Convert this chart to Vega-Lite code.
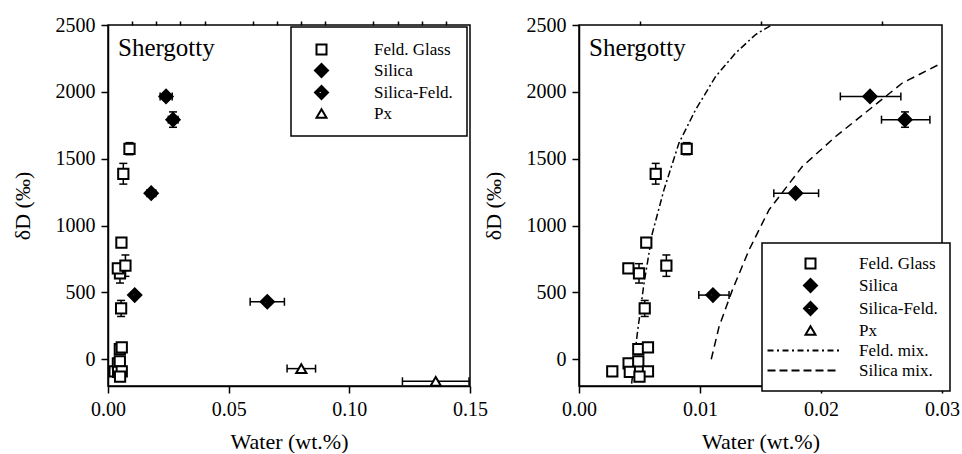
{
  "$schema": "https://vega.github.io/schema/vega-lite/v6.json",
  "padding": {"left": 10, "top": 14, "right": 0, "bottom": 0},
  "background": "white",
  "datasets": {
    "pts": [
      {"type": "Feld. Glass", "x": 0.00275, "y": -90},
      {"type": "Feld. Glass", "x": 0.0041, "y": -30},
      {"type": "Feld. Glass", "x": 0.0049, "y": -15},
      {"type": "Feld. Glass", "x": 0.0042, "y": -95},
      {"type": "Feld. Glass", "x": 0.0057, "y": -90},
      {"type": "Feld. Glass", "x": 0.0050, "y": -130},
      {"type": "Feld. Glass", "x": 0.0049, "y": 75},
      {"type": "Feld. Glass", "x": 0.0057, "y": 88},
      {"type": "Feld. Glass", "x": 0.00543, "y": 380},
      {"type": "Feld. Glass", "x": 0.00496, "y": 642},
      {"type": "Feld. Glass", "x": 0.00408, "y": 680},
      {"type": "Feld. Glass", "x": 0.00722, "y": 700},
      {"type": "Feld. Glass", "x": 0.00556, "y": 872},
      {"type": "Feld. Glass", "x": 0.00634, "y": 1387},
      {"type": "Feld. Glass", "x": 0.0089, "y": 1574},
      {"type": "Silica", "x": 0.02405, "y": 1966},
      {"type": "Silica", "x": 0.02694, "y": 1792},
      {"type": "Silica", "x": 0.0179, "y": 1242},
      {"type": "Silica-Feld.", "x": 0.01107, "y": 480},
      {"type": "Silica-Feld.", "x": 0.066, "y": 430},
      {"type": "Px", "x": 0.0801, "y": -70},
      {"type": "Px", "x": 0.1358, "y": -165}
    ],
    "xerr": [
      {"y": 1574, "xlo": 0.0086, "xhi": 0.0092},
      {"y": 1966, "xlo": 0.0216, "xhi": 0.0266},
      {"y": 1792, "xlo": 0.0250, "xhi": 0.0290},
      {"y": 1242, "xlo": 0.0161, "xhi": 0.0198},
      {"y": 480, "xlo": 0.0099, "xhi": 0.0124},
      {"y": 430, "xlo": 0.0589, "xhi": 0.0731},
      {"y": -70, "xlo": 0.0742, "xhi": 0.0860},
      {"y": -165, "xlo": 0.1220, "xhi": 0.1496}
    ],
    "yerr": [
      {"x": 0.0089, "ylo": 1530, "yhi": 1620},
      {"x": 0.00634, "ylo": 1310, "yhi": 1465},
      {"x": 0.00722, "ylo": 620, "yhi": 780},
      {"x": 0.00496, "ylo": 570, "yhi": 715},
      {"x": 0.00543, "ylo": 320, "yhi": 440},
      {"x": 0.02694, "ylo": 1735, "yhi": 1850}
    ],
    "curves": [
      {"curve": "Feld. mix.", "i": 1, "x": 0.00435, "y": -182},
      {"curve": "Feld. mix.", "i": 2, "x": 0.00482, "y": 193},
      {"curve": "Feld. mix.", "i": 3, "x": 0.00537, "y": 567},
      {"curve": "Feld. mix.", "i": 4, "x": 0.00606, "y": 942},
      {"curve": "Feld. mix.", "i": 5, "x": 0.00702, "y": 1267},
      {"curve": "Feld. mix.", "i": 6, "x": 0.00826, "y": 1617},
      {"curve": "Feld. mix.", "i": 7, "x": 0.00964, "y": 1867},
      {"curve": "Feld. mix.", "i": 8, "x": 0.0113, "y": 2116},
      {"curve": "Feld. mix.", "i": 9, "x": 0.01295, "y": 2291},
      {"curve": "Feld. mix.", "i": 10, "x": 0.0146, "y": 2429},
      {"curve": "Feld. mix.", "i": 11, "x": 0.0160, "y": 2504},
      {"curve": "Silica mix.", "i": 1, "x": 0.01093, "y": 0},
      {"curve": "Silica mix.", "i": 2, "x": 0.01157, "y": 242},
      {"curve": "Silica mix.", "i": 3, "x": 0.01267, "y": 517},
      {"curve": "Silica mix.", "i": 4, "x": 0.01405, "y": 817},
      {"curve": "Silica mix.", "i": 5, "x": 0.0157, "y": 1117},
      {"curve": "Silica mix.", "i": 6, "x": 0.01845, "y": 1441},
      {"curve": "Silica mix.", "i": 7, "x": 0.02121, "y": 1666},
      {"curve": "Silica mix.", "i": 8, "x": 0.02397, "y": 1866},
      {"curve": "Silica mix.", "i": 9, "x": 0.02672, "y": 2066},
      {"curve": "Silica mix.", "i": 10, "x": 0.0300, "y": 2216}
    ]
  },
  "spacing": 109,
  "bounds": "flush",
  "resolve": {
    "scale": {"x": "independent", "y": "independent", "shape": "independent", "fill": "independent", "stroke": "independent"},
    "legend": {"shape": "independent", "fill": "independent", "stroke": "independent"}
  },
  "hconcat": [
    {
      "width": 362,
      "height": 361,
      "title": {"text": "Shergotty", "anchor": "start", "frame": "group", "baseline": "top", "offset": -46, "dx": 10, "fontSize": 25, "font": "Liberation Serif", "fontWeight": "normal", "color": "black"},
      "resolve": {"axis": {"x": "independent"}},
      "layer": [
        {
          "data": {"name": "xerr"},
          "mark": {"type": "rule", "color": "black", "strokeWidth": 1.5, "clip": true},
          "encoding": {
            "x": {"field": "xlo", "type": "quantitative", "title": "Water (wt.%)", "scale": {"domain": [0, 0.15], "nice": false, "zero": false},
              "axis": {"values": [0, 0.05, 0.1, 0.15], "format": ".2f", "labelOverlap": false, "labelFlush": false, "tickSize": 7}},
            "x2": {"field": "xhi"},
            "y": {"field": "y", "type": "quantitative", "title": "δD (‰)", "scale": {"domain": [-200, 2500], "nice": false, "zero": false}, "axis": {"values": [0, 500, 1000, 1500, 2000, 2500], "format": "d", "labelOverlap": false}}
          }
        },
        {
          "data": {"name": "xerr"},
          "mark": {"type": "tick", "orient": "vertical", "size": 8, "thickness": 1.5, "color": "black", "opacity": 1, "clip": true},
          "encoding": {
            "x": {"field": "xlo", "type": "quantitative", "title": null, "scale": {"domain": [0, 0.15], "nice": false, "zero": false},
              "axis": {"values": [0.01, 0.02, 0.03, 0.04, 0.06, 0.07, 0.08, 0.09, 0.11, 0.12, 0.13, 0.14], "labels": false, "domain": false, "tickSize": 4, "title": null}},
            "y": {"field": "y", "type": "quantitative", "title": "δD (‰)", "scale": {"domain": [-200, 2500], "nice": false, "zero": false}}
          }
        },
        {
          "data": {"name": "xerr"},
          "mark": {"type": "tick", "orient": "vertical", "size": 8, "thickness": 1.5, "color": "black", "opacity": 1, "clip": true},
          "encoding": {
            "x": {"field": "xhi", "type": "quantitative", "axis": null, "scale": {"domain": [0, 0.15], "nice": false, "zero": false}},
            "y": {"field": "y", "type": "quantitative", "title": "δD (‰)", "scale": {"domain": [-200, 2500], "nice": false, "zero": false}}
          }
        },
        {
          "data": {"name": "yerr"},
          "mark": {"type": "rule", "color": "black", "strokeWidth": 1.5, "clip": true},
          "encoding": {
            "x": {"field": "x", "type": "quantitative", "axis": null, "scale": {"domain": [0, 0.15], "nice": false, "zero": false}},
            "y": {"field": "ylo", "type": "quantitative", "title": "δD (‰)", "scale": {"domain": [-200, 2500], "nice": false, "zero": false}},
            "y2": {"field": "yhi"}
          }
        },
        {
          "data": {"name": "yerr"},
          "mark": {"type": "tick", "orient": "horizontal", "size": 8, "thickness": 1.5, "color": "black", "opacity": 1, "clip": true},
          "encoding": {
            "x": {"field": "x", "type": "quantitative", "axis": null, "scale": {"domain": [0, 0.15], "nice": false, "zero": false}},
            "y": {"field": "ylo", "type": "quantitative", "title": "δD (‰)", "scale": {"domain": [-200, 2500], "nice": false, "zero": false}}
          }
        },
        {
          "data": {"name": "yerr"},
          "mark": {"type": "tick", "orient": "horizontal", "size": 8, "thickness": 1.5, "color": "black", "opacity": 1, "clip": true},
          "encoding": {
            "x": {"field": "x", "type": "quantitative", "axis": null, "scale": {"domain": [0, 0.15], "nice": false, "zero": false}},
            "y": {"field": "yhi", "type": "quantitative", "title": "δD (‰)", "scale": {"domain": [-200, 2500], "nice": false, "zero": false}}
          }
        },
        {
          "data": {"name": "pts"},
          "mark": {"type": "point", "filled": true, "strokeWidth": 2, "size": 105, "opacity": 1, "clip": true},
          "encoding": {
            "x": {"field": "x", "type": "quantitative", "axis": null, "scale": {"domain": [0, 0.15], "nice": false, "zero": false}},
            "y": {"field": "y", "type": "quantitative", "title": "δD (‰)", "scale": {"domain": [-200, 2500], "nice": false, "zero": false}},
            "shape": {"field": "type", "type": "nominal",
              "scale": {"domain": ["Feld. Glass", "Silica", "Silica-Feld.", "Px"], "range": ["square", "M-1.3,0L0,-1.3L1.3,0L0,1.3Z", "M-1.3,0L0,-1.3L1.3,0L0,1.3ZM-0.8,0L-0.25,0.38L0.2,0L-0.25,-0.38Z", "triangle-up"]},
              "legend": {"title": null, "orient": "none", "legendX": 183, "legendY": 2, "padding": 14, "symbolOffset": 8, "labelOffset": 44, "rowPadding": 1}},
            "fill": {"field": "type", "type": "nominal",
              "scale": {"domain": ["Feld. Glass", "Silica", "Silica-Feld.", "Px"], "range": ["white", "black", "black", "white"]},
              "legend": {"title": null, "orient": "none", "legendX": 183, "legendY": 2, "padding": 14, "symbolOffset": 8, "labelOffset": 44, "rowPadding": 1}},
            "stroke": {"field": "type", "type": "nominal",
              "scale": {"domain": ["Feld. Glass", "Silica", "Silica-Feld.", "Px"], "range": ["black", "black", "black", "black"]},
              "legend": {"title": null, "orient": "none", "legendX": 183, "legendY": 2, "padding": 14, "symbolOffset": 8, "labelOffset": 44, "rowPadding": 1}}
          }
        }
      ]
    },
    {
      "width": 363,
      "height": 361,
      "title": {"text": "Shergotty", "anchor": "start", "frame": "group", "baseline": "top", "offset": -46, "dx": 10, "fontSize": 25, "font": "Liberation Serif", "fontWeight": "normal", "color": "black"},
      "resolve": {"axis": {"x": "independent"}},
      "layer": [
        {
          "data": {"name": "curves"},
          "mark": {"type": "line", "color": "black", "strokeWidth": 1.5, "clip": true},
          "encoding": {
            "x": {"field": "x", "type": "quantitative", "title": "Water (wt.%)", "scale": {"domain": [0, 0.03], "nice": false, "zero": false},
              "axis": {"values": [0, 0.01, 0.02, 0.03], "format": ".2f", "labelOverlap": false, "labelFlush": false, "tickSize": 7}},
            "y": {"field": "y", "type": "quantitative", "title": "δD (‰)", "scale": {"domain": [-200, 2500], "nice": false, "zero": false}, "axis": {"values": [0, 500, 1000, 1500, 2000, 2500], "format": "d", "labelOverlap": false}},
            "detail": {"field": "curve"},
            "order": {"field": "i"},
            "strokeDash": {"field": "curve", "type": "nominal", "scale": {"domain": ["Feld. mix.", "Silica mix."], "range": [[7, 3, 2, 3], [8, 5]]}, "legend": null}
          }
        },
        {
          "data": {"name": "xerr"},
          "mark": {"type": "rule", "color": "black", "strokeWidth": 1.5, "clip": true},
          "encoding": {
            "x": {"field": "xlo", "type": "quantitative", "title": null, "scale": {"domain": [0, 0.03], "nice": false, "zero": false},
              "axis": {"values": [0.005, 0.015, 0.025], "labels": false, "domain": false, "tickSize": 4, "title": null}},
            "x2": {"field": "xhi"},
            "y": {"field": "y", "type": "quantitative", "title": "δD (‰)", "scale": {"domain": [-200, 2500], "nice": false, "zero": false}}
          }
        },
        {
          "data": {"name": "xerr"},
          "mark": {"type": "tick", "orient": "vertical", "size": 8, "thickness": 1.5, "color": "black", "opacity": 1, "clip": true},
          "encoding": {
            "x": {"field": "xlo", "type": "quantitative", "axis": null, "scale": {"domain": [0, 0.03], "nice": false, "zero": false}},
            "y": {"field": "y", "type": "quantitative", "title": "δD (‰)", "scale": {"domain": [-200, 2500], "nice": false, "zero": false}}
          }
        },
        {
          "data": {"name": "xerr"},
          "mark": {"type": "tick", "orient": "vertical", "size": 8, "thickness": 1.5, "color": "black", "opacity": 1, "clip": true},
          "encoding": {
            "x": {"field": "xhi", "type": "quantitative", "axis": null, "scale": {"domain": [0, 0.03], "nice": false, "zero": false}},
            "y": {"field": "y", "type": "quantitative", "title": "δD (‰)", "scale": {"domain": [-200, 2500], "nice": false, "zero": false}}
          }
        },
        {
          "data": {"name": "yerr"},
          "mark": {"type": "rule", "color": "black", "strokeWidth": 1.5, "clip": true},
          "encoding": {
            "x": {"field": "x", "type": "quantitative", "axis": null, "scale": {"domain": [0, 0.03], "nice": false, "zero": false}},
            "y": {"field": "ylo", "type": "quantitative", "title": "δD (‰)", "scale": {"domain": [-200, 2500], "nice": false, "zero": false}},
            "y2": {"field": "yhi"}
          }
        },
        {
          "data": {"name": "yerr"},
          "mark": {"type": "tick", "orient": "horizontal", "size": 8, "thickness": 1.5, "color": "black", "opacity": 1, "clip": true},
          "encoding": {
            "x": {"field": "x", "type": "quantitative", "axis": null, "scale": {"domain": [0, 0.03], "nice": false, "zero": false}},
            "y": {"field": "ylo", "type": "quantitative", "title": "δD (‰)", "scale": {"domain": [-200, 2500], "nice": false, "zero": false}}
          }
        },
        {
          "data": {"name": "yerr"},
          "mark": {"type": "tick", "orient": "horizontal", "size": 8, "thickness": 1.5, "color": "black", "opacity": 1, "clip": true},
          "encoding": {
            "x": {"field": "x", "type": "quantitative", "axis": null, "scale": {"domain": [0, 0.03], "nice": false, "zero": false}},
            "y": {"field": "yhi", "type": "quantitative", "title": "δD (‰)", "scale": {"domain": [-200, 2500], "nice": false, "zero": false}}
          }
        },
        {
          "data": {"name": "pts"},
          "mark": {"type": "point", "filled": true, "strokeWidth": 2, "size": 105, "opacity": 1, "clip": true},
          "encoding": {
            "x": {"field": "x", "type": "quantitative", "axis": null, "scale": {"domain": [0, 0.03], "nice": false, "zero": false}},
            "y": {"field": "y", "type": "quantitative", "title": "δD (‰)", "scale": {"domain": [-200, 2500], "nice": false, "zero": false}},
            "shape": {"field": "type", "type": "nominal",
              "scale": {"domain": ["Feld. Glass", "Silica", "Silica-Feld.", "Px", "Feld. mix.", "Silica mix."], "range": ["square", "M-1.3,0L0,-1.3L1.3,0L0,1.3Z", "M-1.3,0L0,-1.3L1.3,0L0,1.3ZM-0.8,0L-0.25,0.38L0.2,0L-0.25,-0.38Z", "triangle-up", "M-8.6,0H-7.4M-6.7,0H-6.3M-5.6,0H-4.4M-3.7,0H-3.3M-2.6,0H-1.4M-0.7,0H-0.3M0.4,0H1.6M2.3,0H2.7M3.4,0H4.6M5.3,0H5.7", "M-8.6,0H-7M-6.2,0H-4.6M-3.8,0H-2.2M-1.4,0H0.2M1,0H2.6M3.4,0H5"]},
              "legend": {"title": null, "orient": "none", "legendX": 183, "legendY": 218, "padding": 12, "symbolOffset": 28, "labelOffset": 40, "rowPadding": 2}},
            "fill": {"field": "type", "type": "nominal",
              "scale": {"domain": ["Feld. Glass", "Silica", "Silica-Feld.", "Px", "Feld. mix.", "Silica mix."], "range": ["white", "black", "black", "white", "transparent", "transparent"]},
              "legend": {"title": null, "orient": "none", "legendX": 183, "legendY": 218, "padding": 12, "symbolOffset": 28, "labelOffset": 40, "rowPadding": 2}},
            "stroke": {"field": "type", "type": "nominal",
              "scale": {"domain": ["Feld. Glass", "Silica", "Silica-Feld.", "Px", "Feld. mix.", "Silica mix."], "range": ["black", "black", "black", "black", "black", "black"]},
              "legend": {"title": null, "orient": "none", "legendX": 183, "legendY": 218, "padding": 12, "symbolOffset": 28, "labelOffset": 40, "rowPadding": 2}}
          }
        }
      ]
    }
  ],
  "config": {
    "view": {"stroke": "black", "strokeWidth": 1.5},
    "font": "Liberation Serif",
    "axis": {"domainColor": "black", "domainWidth": 1.5, "tickColor": "black", "tickWidth": 1.5, "tickSize": 7, "labelFont": "Liberation Serif", "labelFontSize": 20, "labelColor": "black", "titleFont": "Liberation Serif", "titleFontSize": 22, "titleFontWeight": "normal", "titleColor": "black", "grid": false, "labelPadding": 6, "labelOverlap": false},
    "axisX": {"titlePadding": 12, "labelOverlap": false},
    "axisY": {"titlePadding": 21},
    "legend": {"labelFont": "Liberation Serif", "labelFontSize": 17, "labelColor": "black", "strokeColor": "black", "strokeWidth": 1.5, "fillColor": "white", "symbolStrokeWidth": 2, "symbolSize": 100, "symbolOpacity": 1, "labelLimit": 300}
  }
}
